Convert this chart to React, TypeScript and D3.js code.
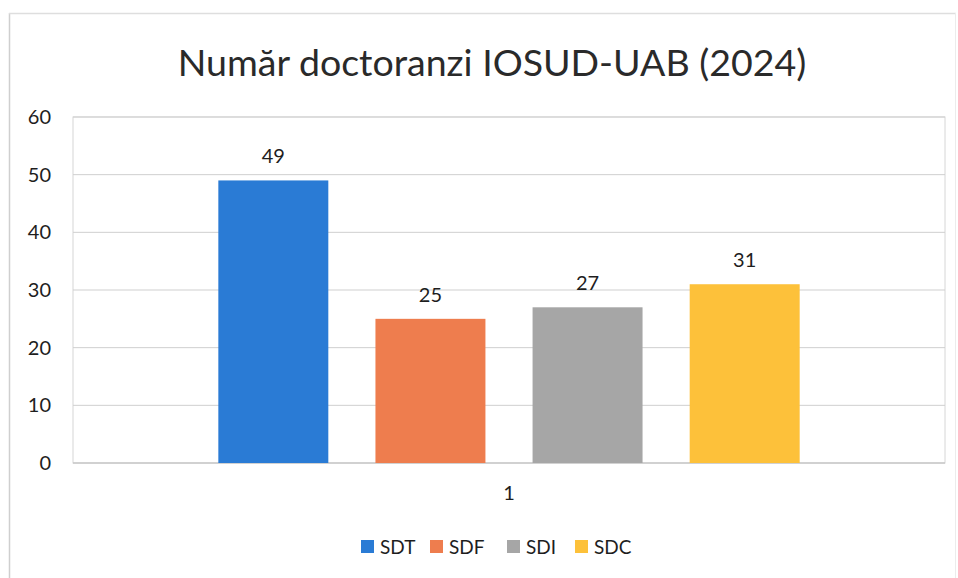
import React from "react";
import * as d3 from "d3";

const title = "Număr doctoranzi IOSUD-UAB (2024)";
const categories = ["1"];
const seriesNames = ["SDT", "SDF", "SDI", "SDC"];
const seriesValues = [49, 25, 27, 31];
const seriesColors = ["#2a7bd5", "#ee7d4e", "#a6a6a6", "#fdc13a"];
const yTicks = [0, 10, 20, 30, 40, 50, 60];

const W = 958;
const H = 578;
const plot = { left: 73, right: 945, top: 117, bottom: 463 };
const FONT = "Lato, 'Open Sans', sans-serif";

export default function App() {
  const y = d3.scaleLinear().domain([0, 60]).range([plot.bottom, plot.top]);
  const x0 = d3
    .scaleBand<string>()
    .domain(categories)
    .range([plot.left, plot.right])
    .paddingInner(0)
    .paddingOuter(0.25);
  const x1 = d3
    .scaleBand<string>()
    .domain(seriesNames)
    .range([0, x0.bandwidth()])
    .paddingInner(0.3)
    .paddingOuter(0);

  const legendX = [361, 430, 507, 575];

  return (
    <svg
      width={W}
      height={H}
      style={{ position: "absolute", left: 0, top: 0, background: "#fff" }}
      fontFamily={FONT}
    >
      <rect x={0} y={0} width={W} height={H} fill="#fff" />
      {/* outer border */}
      <line x1={9.5} y1={13} x2={9.5} y2={H} stroke="#cfcfcf" strokeWidth={1.5} />
      <line x1={9} y1={13.5} x2={956} y2={13.5} stroke="#dedede" strokeWidth={1.5} />
      <line x1={955.5} y1={13} x2={955.5} y2={H} stroke="#ececec" strokeWidth={1} />

      <text x={492} y={76} textAnchor="middle" fontSize={37.5} fill="#2a2a2a">
        {title}
      </text>

      {/* plot frame */}
      <rect
        x={plot.left}
        y={plot.top}
        width={plot.right - plot.left}
        height={plot.bottom - plot.top}
        fill="none"
        stroke="#d6d6d6"
        strokeWidth={1}
      />
      {yTicks.map((t) => (
        <g key={t}>
          <line
            x1={plot.left}
            x2={plot.right}
            y1={y(t)}
            y2={y(t)}
            stroke={t === 0 ? "#c8c8c8" : "#cfcfcf"}
            strokeWidth={t === 0 ? 1.5 : 1}
          />
          <text
            x={51}
            y={y(t)}
            dy="0.35em"
            textAnchor="end"
            fontSize={20}
            fill="#1e1e1e"
          >
            {t}
          </text>
        </g>
      ))}

      {categories.map((c) => (
        <g key={c} transform={`translate(${x0(c)},0)`}>
          {seriesNames.map((s, i) => {
            const v = seriesValues[i];
            const bx = x1(s)!;
            return (
              <g key={s}>
                <rect
                  x={bx}
                  y={y(v)}
                  width={x1.bandwidth()}
                  height={y(0) - y(v)}
                  fill={seriesColors[i]}
                />
                <text
                  x={bx + x1.bandwidth() / 2}
                  y={y(v) - 24}
                  dy="0.35em"
                  textAnchor="middle"
                  fontSize={20}
                  fill="#1e1e1e"
                >
                  {v}
                </text>
              </g>
            );
          })}
          <text
            x={x0.bandwidth() / 2}
            y={493}
            dy="0.35em"
            textAnchor="middle"
            fontSize={20}
            fill="#1e1e1e"
          >
            {c}
          </text>
        </g>
      ))}

      {seriesNames.map((s, i) => (
        <g key={s} transform={`translate(${legendX[i]},547)`}>
          <rect x={0} y={-7} width={13} height={13} fill={seriesColors[i]} />
          <text x={19} y={0} dy="0.35em" fontSize={19} fill="#1e1e1e">
            {s}
          </text>
        </g>
      ))}
    </svg>
  );
}
